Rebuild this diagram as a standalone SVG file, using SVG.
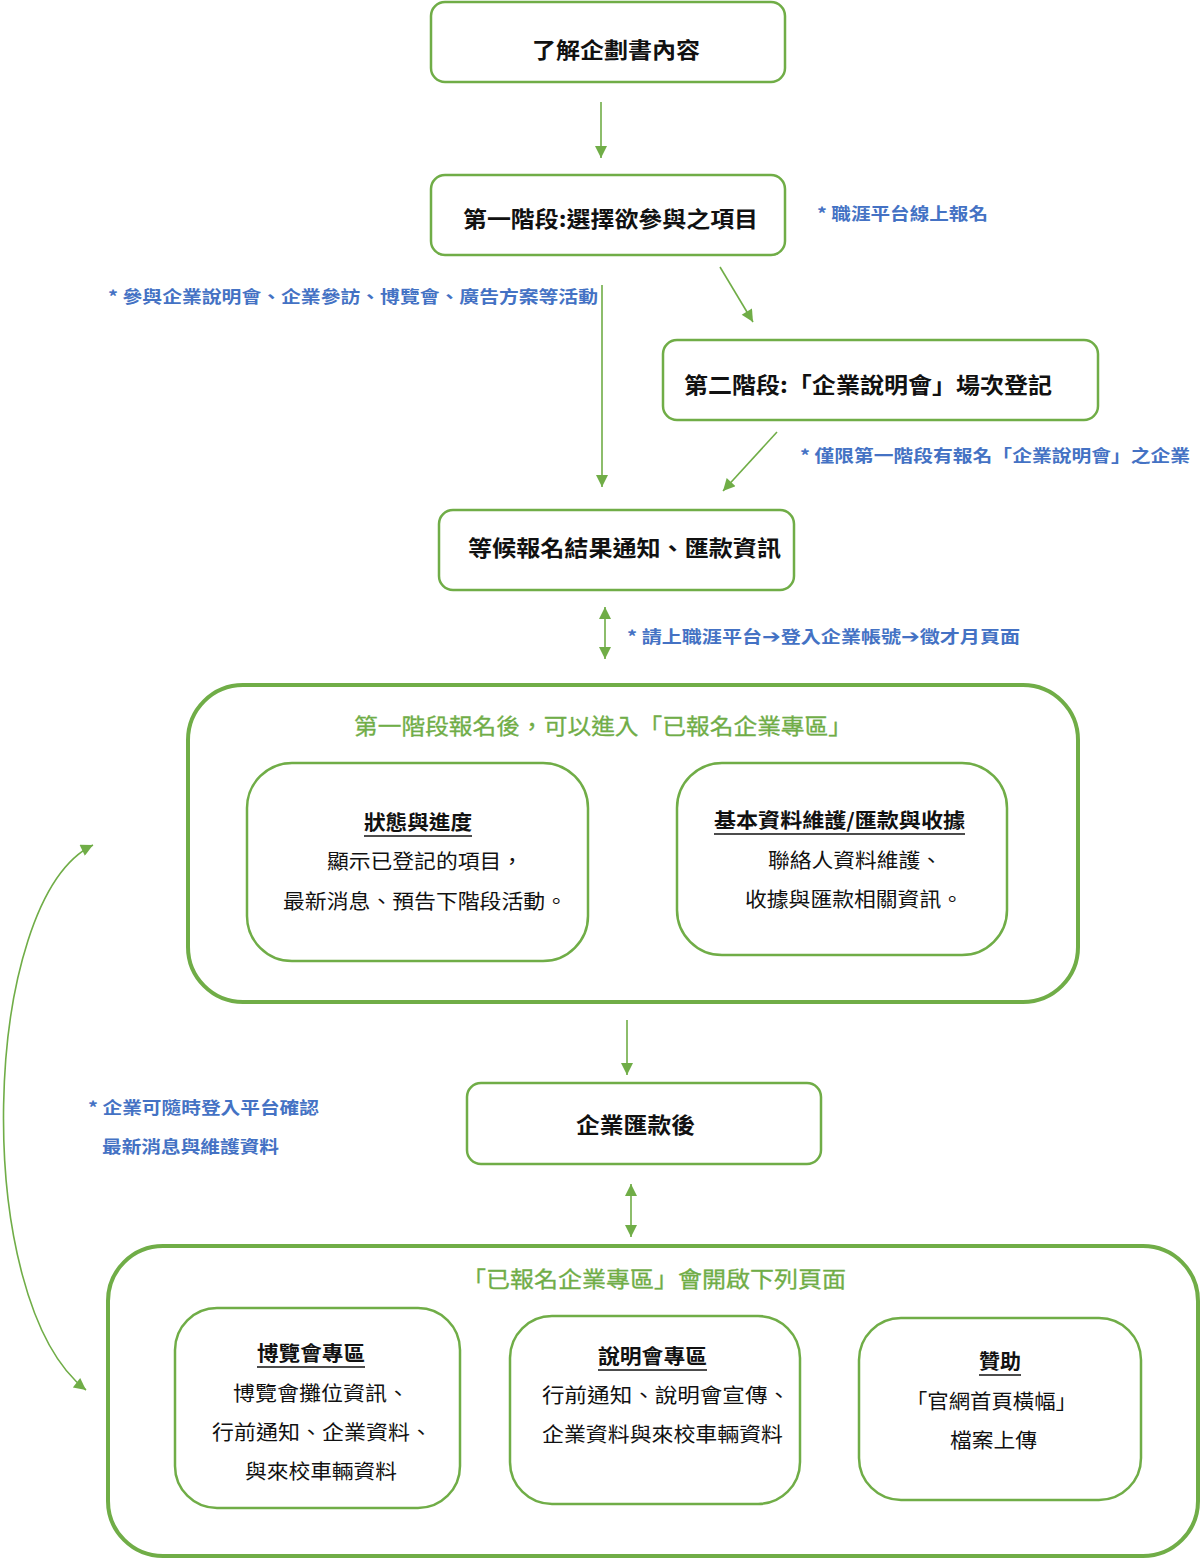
<svg xmlns="http://www.w3.org/2000/svg" width="1200" height="1558" viewBox="0 0 1200 1558">
<style>
.box{fill:#fff;stroke:#70AD47;stroke-width:2.5}
.big{fill:#fff;stroke:#70AD47;stroke-width:4}
.t{font-family:"Noto Sans CJK TC","Noto Sans CJK SC",sans-serif;font-size:22px;font-weight:bold;fill:#111}
.b{font-family:"Noto Sans CJK TC","Noto Sans CJK SC",sans-serif;font-size:17px;font-weight:bold;fill:#4472C4}
.ar{font-family:"DejaVu Sans",sans-serif;font-size:19px;font-weight:bold}
.g{font-family:"Noto Sans CJK TC","Noto Sans CJK SC",sans-serif;font-size:22px;fill:#70AD47;stroke:#70AD47;stroke-width:0.3}
.h{font-family:"Noto Sans CJK TC","Noto Sans CJK SC",sans-serif;font-size:20px;font-weight:bold;fill:#111}
.p{font-family:"Noto Sans CJK TC","Noto Sans CJK SC",sans-serif;font-size:20px;fill:#111}
.ul{stroke:#111;stroke-width:1.5}
.c{fill:none;stroke:#70AD47;stroke-width:1.6}
</style>
<defs>
<marker id="ah" viewBox="0 0 10 10" refX="10" refY="5" markerUnits="userSpaceOnUse" markerWidth="14" markerHeight="12" orient="auto-start-reverse">
<path d="M0,0 L10,5 L0,10 z" fill="#70AD47"/>
</marker>
</defs>

<g id="connectors">
<line class="c" x1="601" y1="102" x2="601" y2="158" marker-end="url(#ah)"/>
<line class="c" x1="602" y1="285" x2="602" y2="487" marker-end="url(#ah)"/>
<line class="c" x1="720" y1="267" x2="753" y2="322" marker-end="url(#ah)"/>
<line class="c" x1="777" y1="432" x2="723" y2="491" marker-end="url(#ah)"/>
<line class="c" x1="605" y1="607" x2="605" y2="659" marker-start="url(#ah)" marker-end="url(#ah)"/>
<line class="c" x1="627" y1="1020" x2="627" y2="1075" marker-end="url(#ah)"/>
<line class="c" x1="631" y1="1184" x2="631" y2="1237" marker-start="url(#ah)" marker-end="url(#ah)"/>
<path class="c" d="M93,845 C-20,900 -30,1300 86,1390" marker-start="url(#ah)" marker-end="url(#ah)" stroke-width="1.2"/>
</g>

<g id="labels">
<text class="b" x="817" y="220" textLength="171" lengthAdjust="spacingAndGlyphs">* 職涯平台線上報名</text>
<text class="b" x="108" y="303" textLength="490" lengthAdjust="spacingAndGlyphs">* 參與企業說明會、企業參訪、博覽會、廣告方案等活動</text>
<text class="b" x="800" y="462" textLength="390" lengthAdjust="spacingAndGlyphs">* 僅限第一階段有報名「企業說明會」之企業</text>
<text class="b" x="627" y="643" textLength="393" lengthAdjust="spacingAndGlyphs">* 請上職涯平台<tspan class="ar">➔</tspan>登入企業帳號<tspan class="ar">➔</tspan>徵才月頁面</text>
<text class="b" x="88" y="1114" textLength="231" lengthAdjust="spacingAndGlyphs">* 企業可隨時登入平台確認</text>
<text class="b" x="102" y="1153" textLength="177" lengthAdjust="spacingAndGlyphs">最新消息與維護資料</text>
</g>

<g id="n1">
<rect class="box" x="431" y="2" width="354" height="80" rx="14"/>
<text class="t" x="532" y="58" textLength="168" lengthAdjust="spacingAndGlyphs">了解企劃書內容</text>
</g>
<g id="n2">
<rect class="box" x="431" y="175" width="354" height="80" rx="14"/>
<text class="t" x="463" y="227" textLength="295" lengthAdjust="spacingAndGlyphs">第一階段:選擇欲參與之項目</text>
</g>
<g id="n3">
<rect class="box" x="663" y="340" width="435" height="80" rx="14"/>
<text class="t" x="684" y="393" textLength="368" lengthAdjust="spacingAndGlyphs">第二階段:「企業說明會」場次登記</text>
</g>
<g id="n4">
<rect class="box" x="439" y="510" width="355" height="80" rx="14"/>
<text class="t" x="468" y="556" textLength="313" lengthAdjust="spacingAndGlyphs">等候報名結果通知、匯款資訊</text>
</g>

<g id="zone1">
<rect class="big" x="188" y="685" width="890" height="317" rx="55"/>
<text class="g" x="354" y="734" textLength="498" lengthAdjust="spacingAndGlyphs">第一階段報名後，可以進入「已報名企業專區」</text>
</g>
<g id="n5">
<rect class="box" x="247" y="763" width="341" height="198" rx="45"/>
<text class="h" x="364" y="830" textLength="108" lengthAdjust="spacingAndGlyphs">狀態與進度</text>
<line class="ul" x1="364" y1="836" x2="472" y2="836"/>
<text class="p" x="327" y="869" textLength="196" lengthAdjust="spacingAndGlyphs">顯示已登記的項目，</text>
<text class="p" x="283" y="909" textLength="284" lengthAdjust="spacingAndGlyphs">最新消息、預告下階段活動。</text>
</g>
<g id="n6">
<rect class="box" x="677" y="763" width="330" height="192" rx="45"/>
<text class="h" x="714" y="828" textLength="251" lengthAdjust="spacingAndGlyphs">基本資料維護/匯款與收據</text>
<line class="ul" x1="714" y1="834" x2="965" y2="834"/>
<text class="p" x="768" y="868" textLength="174" lengthAdjust="spacingAndGlyphs">聯絡人資料維護、</text>
<text class="p" x="745" y="907" textLength="218" lengthAdjust="spacingAndGlyphs">收據與匯款相關資訊。</text>
</g>

<g id="n7">
<rect class="box" x="467" y="1083" width="354" height="81" rx="14"/>
<text class="t" x="576" y="1133" textLength="119" lengthAdjust="spacingAndGlyphs">企業匯款後</text>
</g>

<g id="zone2">
<rect class="big" x="108" y="1246" width="1090" height="310" rx="55"/>
<text class="g" x="462" y="1287" textLength="384" lengthAdjust="spacingAndGlyphs">「已報名企業專區」會開啟下列頁面</text>
</g>
<g id="n8">
<rect class="box" x="175" y="1308" width="285" height="200" rx="42"/>
<text class="h" x="257" y="1361" textLength="108" lengthAdjust="spacingAndGlyphs">博覽會專區</text>
<line class="ul" x1="257" y1="1367" x2="365" y2="1367"/>
<text class="p" x="233" y="1401" textLength="176" lengthAdjust="spacingAndGlyphs">博覽會攤位資訊、</text>
<text class="p" x="212" y="1440" textLength="220" lengthAdjust="spacingAndGlyphs">行前通知、企業資料、</text>
<text class="p" x="245" y="1479" textLength="152" lengthAdjust="spacingAndGlyphs">與來校車輛資料</text>
</g>
<g id="n9">
<rect class="box" x="510" y="1316" width="290" height="188" rx="42"/>
<text class="h" x="598" y="1364" textLength="109" lengthAdjust="spacingAndGlyphs">說明會專區</text>
<line class="ul" x1="598" y1="1370" x2="707" y2="1370"/>
<text class="p" x="542" y="1403" textLength="248" lengthAdjust="spacingAndGlyphs">行前通知、說明會宣傳、</text>
<text class="p" x="542" y="1442" textLength="241" lengthAdjust="spacingAndGlyphs">企業資料與來校車輛資料</text>
</g>
<g id="n10">
<rect class="box" x="859" y="1318" width="282" height="182" rx="42"/>
<text class="h" x="979" y="1369" textLength="42" lengthAdjust="spacingAndGlyphs">贊助</text>
<line class="ul" x1="979" y1="1375" x2="1021" y2="1375"/>
<text class="p" x="906" y="1409" textLength="171" lengthAdjust="spacingAndGlyphs">「官網首頁橫幅」</text>
<text class="p" x="950" y="1448" textLength="87" lengthAdjust="spacingAndGlyphs">檔案上傳</text>
</g>
</svg>
